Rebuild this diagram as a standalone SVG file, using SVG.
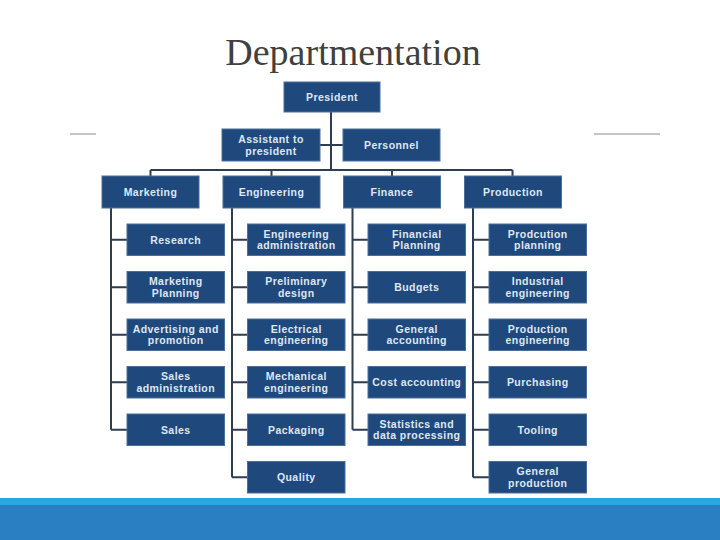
<svg xmlns="http://www.w3.org/2000/svg" width="720" height="540" viewBox="0 0 720 540">
<style>
.box{fill:#1f497d;stroke:#4b6f99;stroke-width:1}
.lbl{font-family:"Liberation Sans",Arial,sans-serif;font-size:10.5px;font-weight:bold;fill:#dfe7f2;text-anchor:middle;letter-spacing:0.45px}
.con{stroke:#2e3d50;stroke-width:2;fill:none}
.deco{stroke:#8a8a8a;stroke-width:1}
.title{font-family:"Liberation Serif","Times New Roman",serif;font-size:38px;fill:#404040;text-anchor:middle}
</style>
<rect width="720" height="540" fill="#ffffff"/>
<text class="title" x="353" y="65">Departmentation</text>
<line class="deco" x1="70" y1="134" x2="96" y2="134"/>
<line class="deco" x1="594" y1="134" x2="660" y2="134"/>
<rect x="0" y="498" width="720" height="7" fill="#29a8e0"/>
<rect x="0" y="505" width="720" height="35" fill="#2a7fc3"/>
<g id="connectors">
<path class="con" d="M331 112V170M320 145H343M150.5 170H512.5M150.5 170V176M271.5 170V176M392 170V176M512.5 170V176"/>
<path class="con" d="M111 208V429.75M111 239.75H127M111 287.25H127M111 334.75H127M111 382.25H127M111 429.75H127"/>
<path class="con" d="M232 208V477.25M232 239.75H247.5M232 287.25H247.5M232 334.75H247.5M232 382.25H247.5M232 429.75H247.5M232 477.25H247.5"/>
<path class="con" d="M352.5 208V429.75M352.5 239.75H368M352.5 287.25H368M352.5 334.75H368M352.5 382.25H368M352.5 429.75H368"/>
<path class="con" d="M473 208V477.25M473 239.75H489M473 287.25H489M473 334.75H489M473 382.25H489M473 429.75H489M473 477.25H489"/>
</g>
<g id="president"><rect class="box" x="284" y="82" width="96" height="30"/><text class="lbl" x="332" y="101">President</text></g>
<g id="assistant"><rect class="box" x="222" y="129" width="98" height="32"/><text class="lbl" x="271" y="143"><tspan x="271">Assistant to</tspan><tspan x="271" dy="11.5">president</tspan></text></g>
<g id="personnel"><rect class="box" x="343" y="129" width="97" height="32"/><text class="lbl" x="391.5" y="149">Personnel</text></g>
<g id="marketing"><rect class="box" x="102" y="176" width="97" height="32"/><text class="lbl" x="150.5" y="196">Marketing</text></g>
<g id="engineering"><rect class="box" x="223" y="176" width="97" height="32"/><text class="lbl" x="271.5" y="196">Engineering</text></g>
<g id="finance"><rect class="box" x="343.5" y="176" width="97" height="32"/><text class="lbl" x="392" y="196">Finance</text></g>
<g id="production"><rect class="box" x="464.5" y="176" width="97" height="32"/><text class="lbl" x="513" y="196">Production</text></g>
<g id="research"><rect class="box" x="127" y="224" width="97.5" height="31.5"/><text class="lbl" x="175.75" y="243.75">Research</text></g>
<g id="marketing-planning"><rect class="box" x="127" y="271.5" width="97.5" height="31.5"/><text class="lbl" x="175.75" y="285.25"><tspan x="175.75">Marketing</tspan><tspan x="175.75" dy="11.5">Planning</tspan></text></g>
<g id="advertising"><rect class="box" x="127" y="319" width="97.5" height="31.5"/><text class="lbl" x="175.75" y="332.75"><tspan x="175.75">Advertising and</tspan><tspan x="175.75" dy="11.5">promotion</tspan></text></g>
<g id="sales-admin"><rect class="box" x="127" y="366.5" width="97.5" height="31.5"/><text class="lbl" x="175.75" y="380.25"><tspan x="175.75">Sales</tspan><tspan x="175.75" dy="11.5">administration</tspan></text></g>
<g id="sales"><rect class="box" x="127" y="414" width="97.5" height="31.5"/><text class="lbl" x="175.75" y="433.75">Sales</text></g>
<g id="eng-admin"><rect class="box" x="247.5" y="224" width="97.5" height="31.5"/><text class="lbl" x="296.25" y="237.75"><tspan x="296.25">Engineering</tspan><tspan x="296.25" dy="11.5">administration</tspan></text></g>
<g id="preliminary"><rect class="box" x="247.5" y="271.5" width="97.5" height="31.5"/><text class="lbl" x="296.25" y="285.25"><tspan x="296.25">Preliminary</tspan><tspan x="296.25" dy="11.5">design</tspan></text></g>
<g id="electrical"><rect class="box" x="247.5" y="319" width="97.5" height="31.5"/><text class="lbl" x="296.25" y="332.75"><tspan x="296.25">Electrical</tspan><tspan x="296.25" dy="11.5">engineering</tspan></text></g>
<g id="mechanical"><rect class="box" x="247.5" y="366.5" width="97.5" height="31.5"/><text class="lbl" x="296.25" y="380.25"><tspan x="296.25">Mechanical</tspan><tspan x="296.25" dy="11.5">engineering</tspan></text></g>
<g id="packaging"><rect class="box" x="247.5" y="414" width="97.5" height="31.5"/><text class="lbl" x="296.25" y="433.75">Packaging</text></g>
<g id="quality"><rect class="box" x="247.5" y="461.5" width="97.5" height="31.5"/><text class="lbl" x="296.25" y="481.25">Quality</text></g>
<g id="fin-planning"><rect class="box" x="368" y="224" width="97.5" height="31.5"/><text class="lbl" x="416.75" y="237.75"><tspan x="416.75">Financial</tspan><tspan x="416.75" dy="11.5">Planning</tspan></text></g>
<g id="budgets"><rect class="box" x="368" y="271.5" width="97.5" height="31.5"/><text class="lbl" x="416.75" y="291.25">Budgets</text></g>
<g id="gen-accounting"><rect class="box" x="368" y="319" width="97.5" height="31.5"/><text class="lbl" x="416.75" y="332.75"><tspan x="416.75">General</tspan><tspan x="416.75" dy="11.5">accounting</tspan></text></g>
<g id="cost-accounting"><rect class="box" x="368" y="366.5" width="97.5" height="31.5"/><text class="lbl" x="416.75" y="386.25">Cost accounting</text></g>
<g id="statistics"><rect class="box" x="368" y="414" width="97.5" height="31.5"/><text class="lbl" x="416.75" y="427.75"><tspan x="416.75">Statistics and</tspan><tspan x="416.75" dy="11.5">data processing</tspan></text></g>
<g id="prod-planning"><rect class="box" x="489" y="224" width="97.5" height="31.5"/><text class="lbl" x="537.75" y="237.75"><tspan x="537.75">Prodcution</tspan><tspan x="537.75" dy="11.5">planning</tspan></text></g>
<g id="industrial"><rect class="box" x="489" y="271.5" width="97.5" height="31.5"/><text class="lbl" x="537.75" y="285.25"><tspan x="537.75">Industrial</tspan><tspan x="537.75" dy="11.5">engineering</tspan></text></g>
<g id="prod-engineering"><rect class="box" x="489" y="319" width="97.5" height="31.5"/><text class="lbl" x="537.75" y="332.75"><tspan x="537.75">Production</tspan><tspan x="537.75" dy="11.5">engineering</tspan></text></g>
<g id="purchasing"><rect class="box" x="489" y="366.5" width="97.5" height="31.5"/><text class="lbl" x="537.75" y="386.25">Purchasing</text></g>
<g id="tooling"><rect class="box" x="489" y="414" width="97.5" height="31.5"/><text class="lbl" x="537.75" y="433.75">Tooling</text></g>
<g id="general-production"><rect class="box" x="489" y="461.5" width="97.5" height="31.5"/><text class="lbl" x="537.75" y="475.25"><tspan x="537.75">General</tspan><tspan x="537.75" dy="11.5">production</tspan></text></g>
</svg>
